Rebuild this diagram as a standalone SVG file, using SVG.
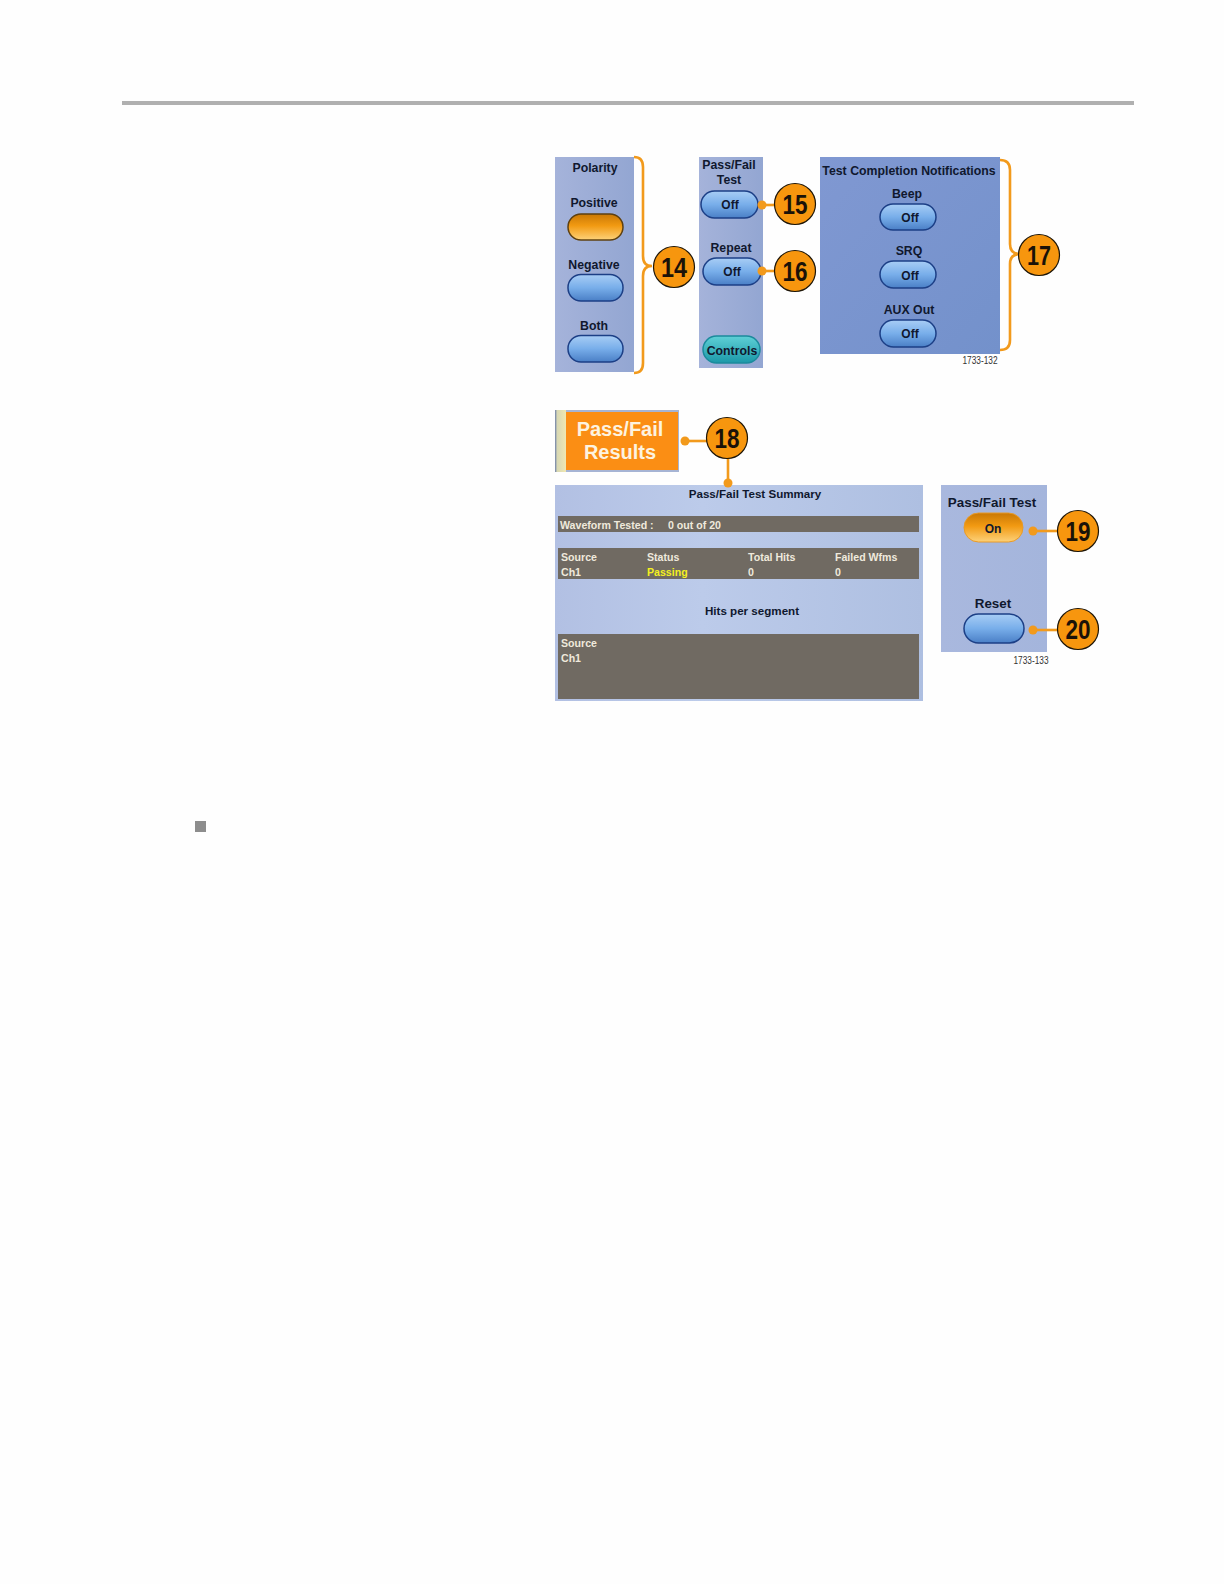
<svg xmlns="http://www.w3.org/2000/svg" width="1224" height="1584" viewBox="0 0 1224 1584">
<defs>
<linearGradient id="blue" x1="0" y1="0" x2="0" y2="1"><stop offset="0" stop-color="#a8cdf5"/><stop offset="0.5" stop-color="#78aeea"/><stop offset="1" stop-color="#4a7fc6"/></linearGradient>
<linearGradient id="orange" x1="0" y1="0" x2="0" y2="1"><stop offset="0" stop-color="#c97805"/><stop offset="0.45" stop-color="#f29a12"/><stop offset="1" stop-color="#fdd27a"/></linearGradient>
<linearGradient id="teal" x1="0" y1="0" x2="0" y2="1"><stop offset="0" stop-color="#5fd0d6"/><stop offset="1" stop-color="#1b98a8"/></linearGradient>
<linearGradient id="panelA" x1="0" y1="0" x2="1" y2="0"><stop offset="0" stop-color="#a5b3da"/><stop offset="1" stop-color="#93a6d2"/></linearGradient>
<linearGradient id="panelB" x1="0" y1="0" x2="1" y2="1"><stop offset="0" stop-color="#8098d2"/><stop offset="1" stop-color="#7391cb"/></linearGradient>
<linearGradient id="panelC" x1="0" y1="0" x2="1" y2="0"><stop offset="0" stop-color="#b2c0e3"/><stop offset="0.4" stop-color="#bccbea"/><stop offset="1" stop-color="#aebfe1"/></linearGradient>
<linearGradient id="panelD" x1="0" y1="0" x2="1" y2="0"><stop offset="0" stop-color="#a9b8de"/><stop offset="1" stop-color="#a4b5dc"/></linearGradient>
<linearGradient id="stripe" x1="0" y1="0" x2="1" y2="0"><stop offset="0" stop-color="#6c7fa8"/><stop offset="0.2" stop-color="#d8d8b4"/><stop offset="1" stop-color="#f0e8b0"/></linearGradient>
</defs>
<style>
text{font-family:"Liberation Sans",Arial,sans-serif;text-anchor:middle}
.l{font-size:12.3px;font-weight:bold;fill:#10182e}
.w{font-size:10.6px;font-weight:bold;fill:#efe9dc;text-anchor:start}
.y{font-size:10.6px;font-weight:bold;fill:#f4f020;text-anchor:start}
.t{font-size:12px;font-weight:bold;fill:#10182e}
.s{font-size:11.6px;font-weight:bold;fill:#10182e}
.n{font-size:28px;font-weight:bold;fill:#1a1208}
.c{fill:#f7960e;stroke:#1e1608;stroke-width:1.2}
.btn{stroke:#1c3f86;stroke-width:1.5;fill:url(#blue)}
.oa{stroke:#5e4010;stroke-width:1.5;fill:url(#orange)}
.line{fill:none;stroke:#f29a1c;stroke-width:2.6}
.dot{fill:#f29a1c}
.f{font-size:10px;fill:#333}
</style>
<rect width="1224" height="1584" fill="#fefefe"/>
<rect x="122" y="101" width="1012" height="4" fill="#b0b0b0"/>
<rect x="195" y="821" width="11" height="11" fill="#8d8d8d"/>
<g id="panel-polarity">
<rect x="555" y="157" width="79" height="215" fill="url(#panelA)"/>
<text class="l" x="595" y="172">Polarity</text>
<text class="l" x="594" y="207">Positive</text>
<rect x="568" y="214" width="55" height="26" rx="13" class="oa"/>
<text class="l" x="594" y="269">Negative</text>
<rect x="568" y="274.500" width="55" height="26.500" rx="13" class="btn"/>
<text class="l" x="594" y="330">Both</text>
<rect x="568" y="335.500" width="55" height="26.500" rx="13" class="btn"/>
</g>
<g id="panel-passfail">
<rect x="699" y="157" width="64" height="211" fill="url(#panelA)"/>
<text class="l" x="729" y="169">Pass/Fail</text>
<text class="l" x="729" y="184">Test</text>
<rect x="701" y="191" width="57" height="27" rx="13.500" class="btn"/>
<text class="t" x="730" y="209">Off</text>
<text class="l" x="731" y="252">Repeat</text>
<rect x="703" y="258" width="58" height="27" rx="13.500" class="btn"/>
<text class="t" x="732" y="276">Off</text>
<rect x="703" y="336" width="57" height="27" rx="13.500" fill="url(#teal)" stroke="#1b8a9c" stroke-width="1.500"/>
<text class="l" x="732" y="355">Controls</text>
</g>
<g id="panel-notifications">
<rect x="820" y="157" width="180" height="197" fill="url(#panelB)"/>
<text class="l" x="909" y="175">Test Completion Notifications</text>
<text class="l" x="907" y="198">Beep</text>
<rect x="880" y="204" width="56" height="26" rx="13" class="btn"/>
<text class="t" x="910" y="222">Off</text>
<text class="l" x="909" y="255">SRQ</text>
<rect x="880" y="261" width="56" height="27" rx="13.500" class="btn"/>
<text class="t" x="910" y="280">Off</text>
<text class="l" x="909" y="314">AUX Out</text>
<rect x="880" y="320" width="56" height="27" rx="13.500" class="btn"/>
<text class="t" x="910" y="338">Off</text>
<text class="f" x="980" y="364" textLength="35" lengthAdjust="spacingAndGlyphs">1733-132</text>
</g>
<g id="tab-results">
<rect x="555" y="410" width="124" height="62" fill="#a6b4d4"/>
<rect x="555" y="410" width="11" height="62" fill="url(#stripe)"/>
<rect x="566" y="412" width="112" height="58" fill="#fb8e14"/>
<text x="620" y="436" font-size="20" font-weight="bold" fill="#fdf3e0">Pass/Fail</text>
<text x="620" y="459" font-size="20" font-weight="bold" fill="#fdf3e0">Results</text>
</g>
<g id="panel-summary">
<rect x="555" y="485" width="368" height="216" fill="url(#panelC)"/>
<text class="s" x="755" y="498">Pass/Fail Test Summary</text>
<rect x="558" y="516" width="361" height="16" fill="#706a62"/>
<text class="w" x="560" y="529">Waveform Tested :</text><text class="w" x="668" y="529">0 out of 20</text>
<rect x="558" y="548" width="361" height="31" fill="#706a62"/>
<text class="w" x="561" y="561">Source</text><text class="w" x="647" y="561">Status</text><text class="w" x="748" y="561">Total Hits</text><text class="w" x="835" y="561">Failed Wfms</text>
<text class="w" x="561" y="576">Ch1</text><text class="y" x="647" y="576">Passing</text><text class="w" x="748" y="576">0</text><text class="w" x="835" y="576">0</text>
<text class="s" x="752" y="615">Hits per segment</text>
<rect x="558" y="634" width="361" height="65" fill="#706a62"/>
<text class="w" x="561" y="647">Source</text><text class="w" x="561" y="662">Ch1</text>
</g>
<g id="panel-test">
<rect x="941" y="485" width="106" height="167" fill="url(#panelD)"/>
<text class="l" x="992" y="507" style="font-size:13.4px">Pass/Fail Test</text>
<rect x="964" y="513" width="59" height="29" rx="14.500" fill="url(#orange)" stroke="#e89a28" stroke-width="1"/>
<text class="t" x="993" y="533">On</text>
<text class="l" x="993" y="608" style="font-size:13.400px">Reset</text>
<rect x="964" y="614" width="60" height="29" rx="14.500" class="btn"/>
<text class="f" x="1031" y="664" textLength="35" lengthAdjust="spacingAndGlyphs">1733-133</text>
</g>
<g id="connectors">
<path class="line" d="M634 157Q643 157 643 167V256Q643 266 652 266Q643 266 643 276V363Q643 373 634 373"/>
<path class="line" d="M1000 160Q1010 160 1010 170V244Q1010 254 1020 254Q1010 254 1010 264V340Q1010 350 1000 350"/>
<circle class="dot" cx="762" cy="205" r="4.500"/><path class="line" d="M762 205H778"/>
<circle class="dot" cx="762" cy="271" r="4.500"/><path class="line" d="M762 271H778"/>
<circle class="dot" cx="685" cy="441" r="4.500"/><path class="line" d="M685 441H708"/>
<circle class="dot" cx="728" cy="483" r="4.500"/><path class="line" d="M728 456V483"/>
<circle class="dot" cx="1033" cy="531" r="4.500"/><path class="line" d="M1033 531H1060"/>
<circle class="dot" cx="1033" cy="630" r="4.500"/><path class="line" d="M1033 630H1060"/>
</g>
<g id="n14"><circle class="c" cx="674" cy="267" r="20.500"/><text class="n" x="674" y="277" textLength="26" lengthAdjust="spacingAndGlyphs">14</text></g>
<g id="n15"><circle class="c" cx="795" cy="204" r="20.500"/><text class="n" x="795" y="214" textLength="25" lengthAdjust="spacingAndGlyphs">15</text></g>
<g id="n16"><circle class="c" cx="795" cy="271" r="20.500"/><text class="n" x="795" y="281" textLength="25" lengthAdjust="spacingAndGlyphs">16</text></g>
<g id="n17"><circle class="c" cx="1039" cy="255" r="20.500"/><text class="n" x="1039" y="265" textLength="24" lengthAdjust="spacingAndGlyphs">17</text></g>
<g id="n18"><circle class="c" cx="727" cy="438" r="20.500"/><text class="n" x="727" y="448" textLength="25" lengthAdjust="spacingAndGlyphs">18</text></g>
<g id="n19"><circle class="c" cx="1078" cy="531" r="20.500"/><text class="n" x="1078" y="541" textLength="25" lengthAdjust="spacingAndGlyphs">19</text></g>
<g id="n20"><circle class="c" cx="1078" cy="629" r="20.500"/><text class="n" x="1078" y="639" textLength="25" lengthAdjust="spacingAndGlyphs">20</text></g>
</svg>
